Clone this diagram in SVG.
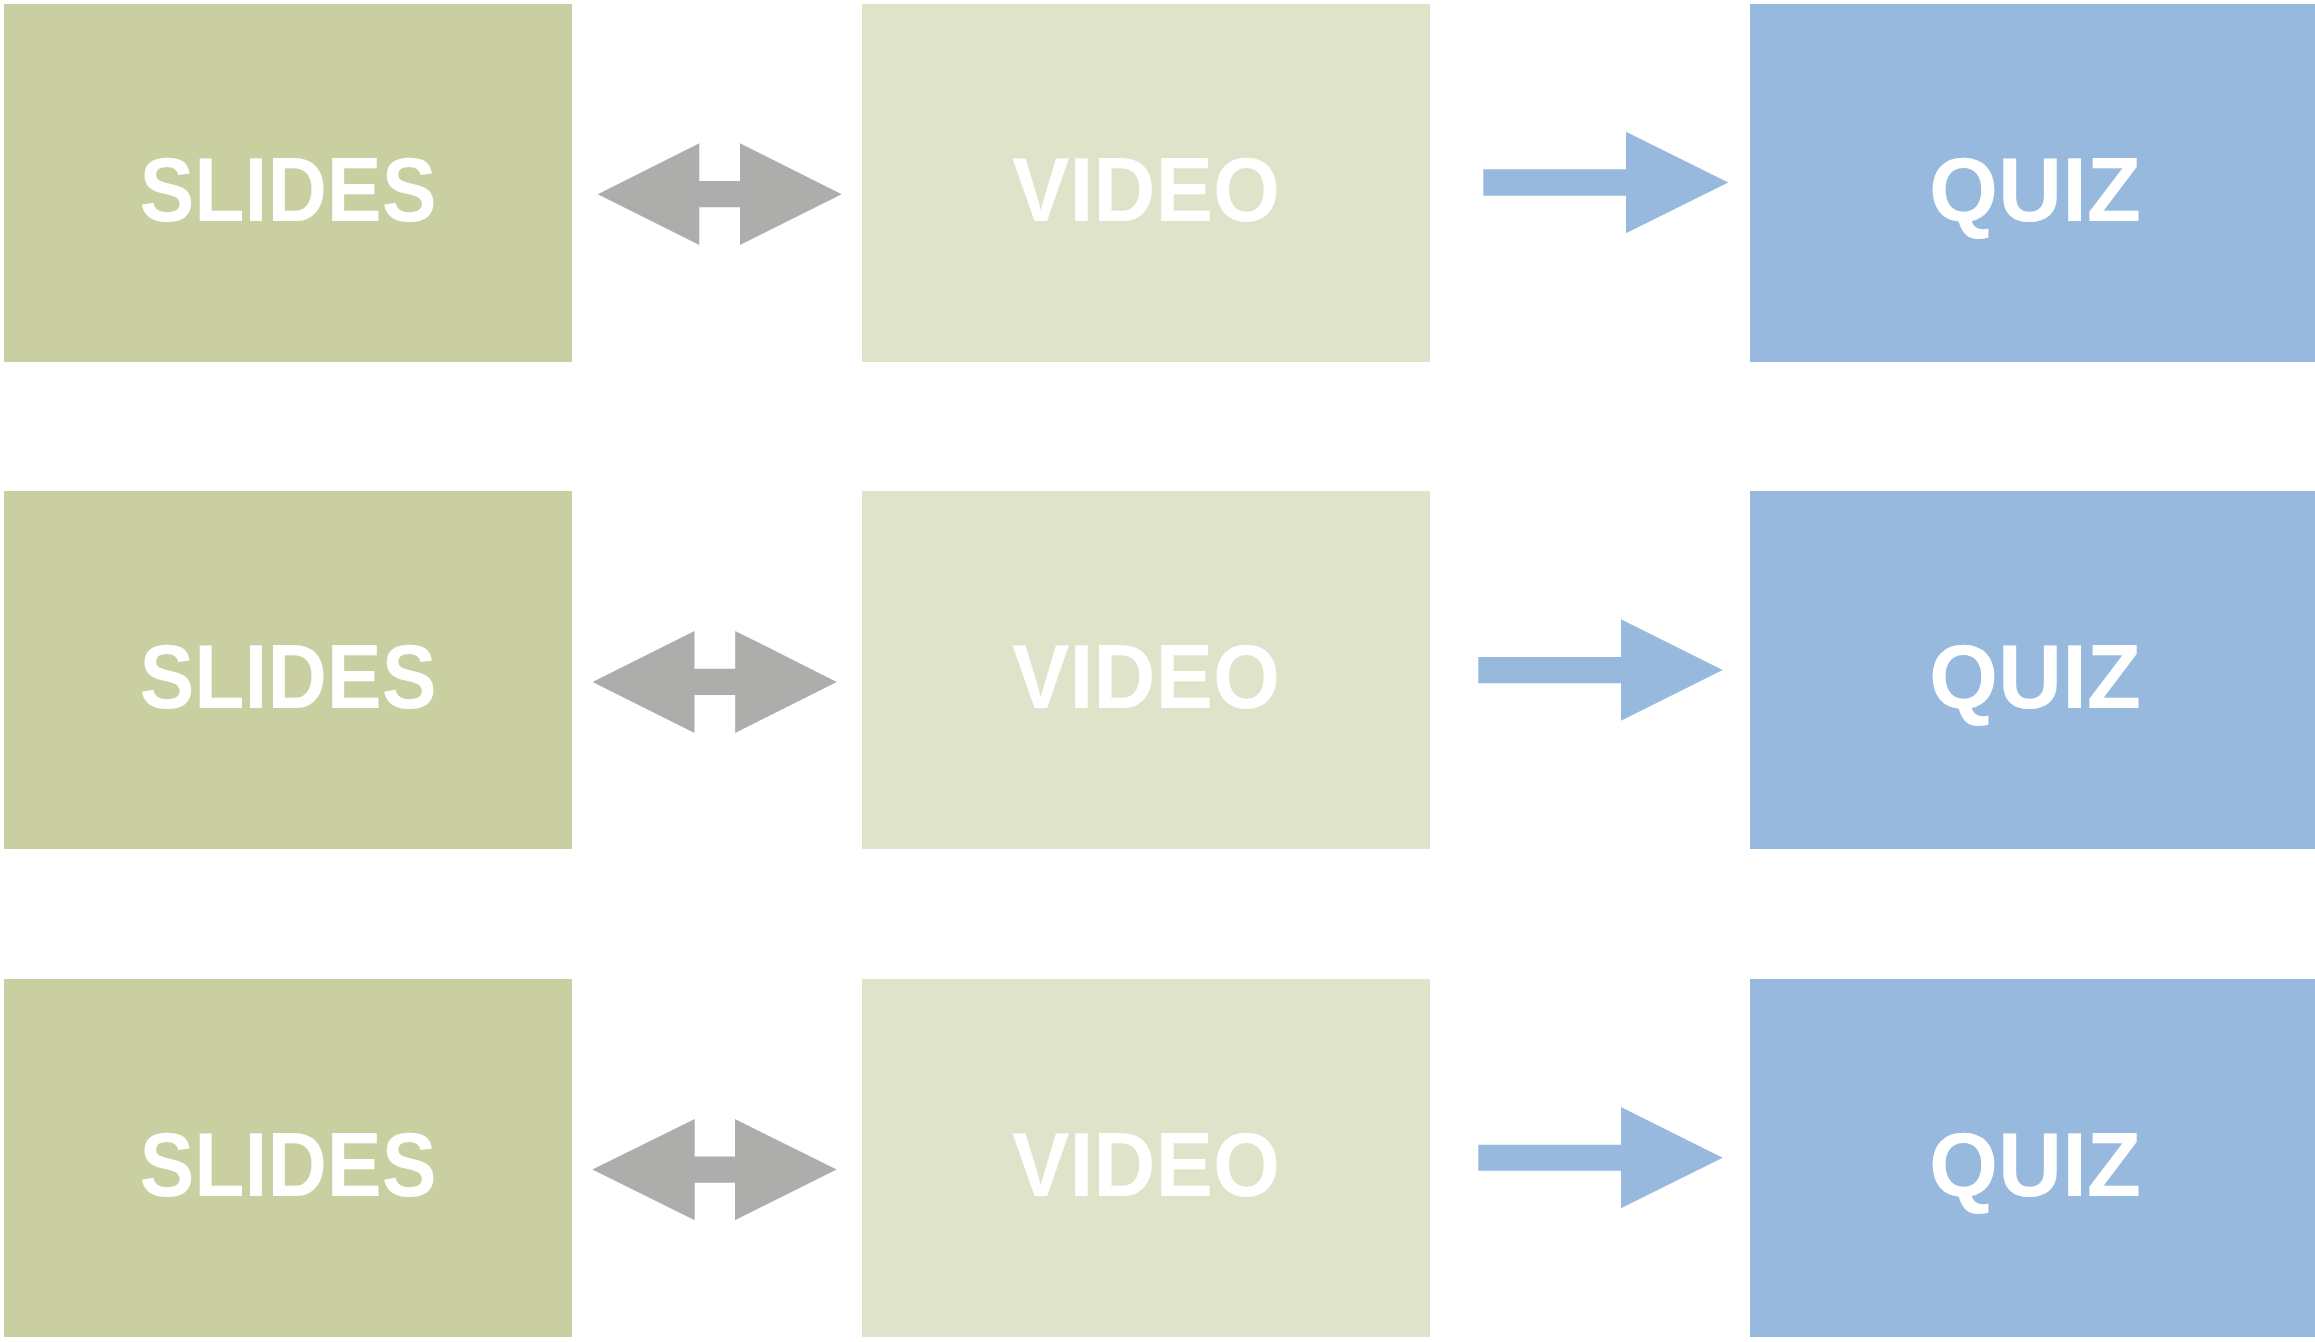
<svg xmlns="http://www.w3.org/2000/svg" width="2315" height="1342" viewBox="0 0 2315 1342">
<style>
.slides{fill:#C9CFA0}
.video{fill:#DFE3C9}
.quiz{fill:#96B9DD}
.lbl{fill:#FFFFFF;font-family:"Liberation Sans",Arial,Helvetica,sans-serif;font-weight:bold;font-size:90px;text-anchor:middle}
.gray{fill:#ADADAB}
.blue{fill:#96B9DD}
</style>
<rect width="2315" height="1342" fill="#FFFFFF"/>
<g id="slides1"><rect class="slides" x="4" y="4" width="568" height="358"/><text class="lbl" x="288" y="221" textLength="297" lengthAdjust="spacingAndGlyphs">SLIDES</text></g>
<g id="video1"><rect class="video" x="862" y="4" width="568" height="358"/><text class="lbl" x="1146" y="221" textLength="268" lengthAdjust="spacingAndGlyphs">VIDEO</text></g>
<g id="quiz1"><rect class="quiz" x="1750" y="4" width="565" height="358"/><text class="lbl" x="2035" y="221" textLength="212" lengthAdjust="spacingAndGlyphs">QUIZ</text></g>
<g id="slides2"><rect class="slides" x="4" y="491" width="568" height="358"/><text class="lbl" x="288" y="708" textLength="297" lengthAdjust="spacingAndGlyphs">SLIDES</text></g>
<g id="video2"><rect class="video" x="862" y="491" width="568" height="358"/><text class="lbl" x="1146" y="708" textLength="268" lengthAdjust="spacingAndGlyphs">VIDEO</text></g>
<g id="quiz2"><rect class="quiz" x="1750" y="491" width="565" height="358"/><text class="lbl" x="2035" y="708" textLength="212" lengthAdjust="spacingAndGlyphs">QUIZ</text></g>
<g id="slides3"><rect class="slides" x="4" y="979" width="568" height="358"/><text class="lbl" x="288" y="1196" textLength="297" lengthAdjust="spacingAndGlyphs">SLIDES</text></g>
<g id="video3"><rect class="video" x="862" y="979" width="568" height="358"/><text class="lbl" x="1146" y="1196" textLength="268" lengthAdjust="spacingAndGlyphs">VIDEO</text></g>
<g id="quiz3"><rect class="quiz" x="1750" y="979" width="565" height="358"/><text class="lbl" x="2035" y="1196" textLength="212" lengthAdjust="spacingAndGlyphs">QUIZ</text></g>
<g id="connectors">
<polygon class="gray" points="597.7,194.2 699.3,143.3 699.3,181 740,181 740,143.3 841.7,194.2 740,245 740,207.3 699.3,207.3 699.3,245"/>
<polygon class="gray" points="592.5,681.9 694.5,630.9 694.5,668.7 735.2,668.7 735.2,630.9 836.8,681.9 735.2,732.9 735.2,695.1 694.5,695.1 694.5,732.9"/>
<polygon class="gray" points="592.3,1169.6 694.7,1119 694.7,1156.6 735,1156.6 735,1119 836.7,1169.6 735,1220.2 735,1182.8 694.7,1182.8 694.7,1220.2"/>
<polygon class="blue" points="1483.3,169.3 1626,169.3 1626,131.7 1728.3,182.5 1626,233.3 1626,195.7 1483.3,195.7"/>
<polygon class="blue" points="1478.3,657 1621,657 1621,619.3 1722.7,670 1621,720.7 1621,683.3 1478.3,683.3"/>
<polygon class="blue" points="1478.3,1144.7 1621,1144.7 1621,1107 1722.7,1157.7 1621,1208.3 1621,1170.7 1478.3,1170.7"/>
</g>
</svg>
